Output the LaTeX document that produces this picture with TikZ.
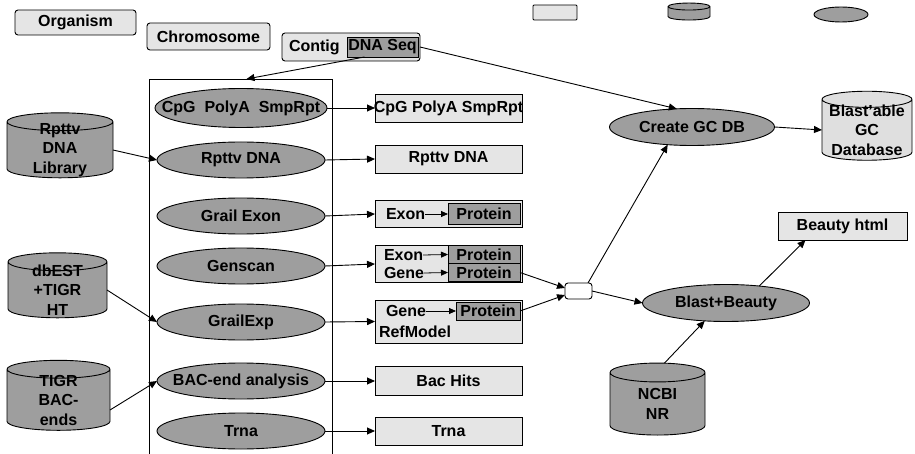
\documentclass[tikz,border=0pt]{standalone}
\usepackage{fontspec}
\setmainfont{Liberation Sans}
\usetikzlibrary{arrows.meta,shapes.geometric}
\definecolor{paleFill}{gray}{0.90}
\definecolor{dullFill}{gray}{0.62}
% invisible strut that sets the size of a cylinder's end cap
\newcommand{\capstrut}[1]{\rule{#1}{0pt}}

\begin{document}
\begin{tikzpicture}[x=1pt,y=-1pt,
  every node/.style={font=\fontsize{16}{19.5}\selectfont\bfseries, inner sep=0pt, outer sep=0pt},
  topbox/.style={draw, line width=0.9pt, fill=paleFill, rounded corners=3pt},
  outbox/.style={draw, line width=0.9pt, fill=paleFill, minimum width=147pt, inner xsep=-8pt},
  protbox/.style={draw, line width=0.9pt, fill=dullFill},
  proc/.style={ellipse, draw, line width=0.9pt, fill=dullFill, inner xsep=-30pt},
  dbcyl/.style={cylinder, shape border rotate=90, aspect=0.35, draw, line width=0.9pt, fill=dullFill},
  dbtext/.style={label={[align=center]center:#1}},
  flow/.style={-{Triangle[length=8pt,width=7pt]}, line width=0.9pt},
  minor/.style={-{Triangle[length=7pt,width=6pt]}, line width=0.8pt},
]
\useasboundingbox (0,0) rectangle (915,454);

% legend
\node[topbox, rounded corners=1pt, minimum width=44pt, minimum height=15pt] (legbox) at (555,12.5) {};
\node[dbcyl, minimum width=42pt, minimum height=17pt] (legcyl) at (689,13.5) {\capstrut{20pt}};
\node[proc, minimum width=54pt, minimum height=15pt] (legell) at (841,14.5) {};

% hierarchy boxes
\node[topbox, minimum width=121pt, minimum height=25pt] (org) at (75.5,22.5) {Organism};
\node[topbox, minimum width=123pt, minimum height=27pt] (chrom) at (208.5,36.5) {Chromosome};
\node[topbox, minimum width=138pt, minimum height=28pt] (contig) at (351,47) {};
\node[anchor=west] (contigtxt) at (289,47) {Contig};
\node[protbox, minimum width=71pt, minimum height=20pt] (dnaseq) at (382.5,47) {DNA Seq};

% analysis pipeline container
\node[draw, line width=0.9pt, minimum width=183pt, minimum height=385pt] (pipeline) at (240.5,271.5) {};

% analysis steps
\node[proc, minimum width=172pt, minimum height=39pt] (e1) at (241,108) {CpG \ PolyA \ SmpRpt};
\node[proc, minimum width=168pt, minimum height=36pt] (e2) at (241,160) {Rpttv DNA};
\node[proc, minimum width=168pt, minimum height=36pt] (e3) at (241,216) {Grail Exon};
\node[proc, minimum width=168pt, minimum height=36pt] (e4) at (241,266) {Genscan};
\node[proc, minimum width=168pt, minimum height=36pt] (e5) at (241,322) {GrailExp};
\node[proc, minimum width=168pt, minimum height=36pt] (e6) at (241,381) {BAC-end analysis};
\node[proc, minimum width=168pt, minimum height=36pt] (e7) at (241,431) {Trna};

% results
\node[outbox, minimum height=28pt] (b1) at (448.5,108) {CpG PolyA SmpRpt};
\node[outbox, minimum height=28pt] (b2) at (448.5,159) {Rpttv DNA};
\node[outbox, minimum height=27pt] (b3) at (448.5,214) {};
\node[anchor=west] (b3a) at (386,214) {Exon};
\node[protbox, minimum width=72pt, minimum height=21pt] (p3) at (484,214) {Protein};
\node[outbox, minimum height=37pt] (b4) at (448.5,264) {};
\node[anchor=west] (b4a) at (384,255) {Exon};
\node[anchor=west] (b4b) at (384,273) {Gene};
\node[protbox, minimum width=72pt, minimum height=18pt] (p4a) at (484,254.5) {Protein};
\node[protbox, minimum width=72pt, minimum height=18pt] (p4b) at (484,272.5) {Protein};
\node[outbox, minimum height=43pt] (b5) at (448.5,321.5) {};
\node[anchor=west] (b5a) at (386,311) {Gene};
\node[anchor=west] (b5b) at (379,332) {RefModel};
\node[protbox, minimum width=64pt, minimum height=18pt] (p5) at (488,311) {Protein};
\node[outbox, minimum height=29pt] (b6) at (448.5,381) {Bac Hits};
\node[outbox, minimum height=28pt] (b7) at (448.5,431) {Trna};

% source databases
\node[dbcyl, minimum width=106pt, minimum height=65pt, dbtext={Rpttv\\DNA\\Library}] (cylA) at (60,150) {\capstrut{51pt}};
\node[dbcyl, minimum width=99pt, minimum height=65pt, dbtext={dbEST\\+TIGR\\HT}] (cylB) at (57.5,290) {\capstrut{51pt}};
\node[dbcyl, minimum width=103pt, minimum height=70pt, dbtext={TIGR\\BAC-\\ends}] (cylC) at (58.5,400) {\capstrut{51pt}};

% downstream
\node[draw, line width=0.9pt, fill=white, rounded corners=3pt, minimum width=27pt, minimum height=16pt] (junc) at (578.5,291) {};
\node[proc, minimum width=165pt, minimum height=37pt] (gcdb) at (692,127) {Create GC DB};
\node[dbcyl, minimum width=90pt, minimum height=69pt, fill=gray!25, dbtext={Blast'able\\GC\\Database}] (blastdb) at (867,130) {\capstrut{46pt}};
\node[proc, minimum width=167pt, minimum height=37pt] (blast) at (726,303) {Blast+Beauty};
\node[outbox, minimum width=129pt, minimum height=28pt] (beauty) at (842.5,226) {Beauty html};
\node[dbcyl, minimum width=95pt, minimum height=72pt, dbtext={NCBI\\NR}] (ncbi) at (657.5,404) {\capstrut{54pt}};

% connectors
\draw[flow] ([xshift=-18pt]dnaseq.south) -- ([xshift=6pt]pipeline.north);
\draw[flow] (contig.east) -- (gcdb.130);
\foreach \i in {1,...,7} \draw[flow] (e\i.east) -- (b\i.west);
\draw[minor] (b3a.east) -- (p3.west);
\draw[minor] (b4a.east) -- (p4a.west);
\draw[minor] (b4b.east) -- (p4b.west);
\draw[minor] (b5a.east) -- (p5.west);
\draw[flow] (cylA.east) -- (e2.west);
\draw[flow] (cylB.east) -- (e5.west);
\draw[flow] ([yshift=-10pt]cylC.east) -- (e6.west);
\draw[flow] (p4b.east) -- ([yshift=3pt]junc.west);
\draw[flow] (p5.east) -- ([yshift=-4pt]junc.west);
\draw[flow] ([xshift=-4pt]junc.north east) -- (gcdb.216);
\draw[flow] (junc.east) -- (blast.west);
\draw[flow] (gcdb.east) -- (blastdb.west);
\draw[flow] (blast.27) -- ([xshift=-37pt]beauty.south);
\draw[flow] ([xshift=7pt]ncbi.north) -- (blast.220);
\end{tikzpicture}
\end{document}
